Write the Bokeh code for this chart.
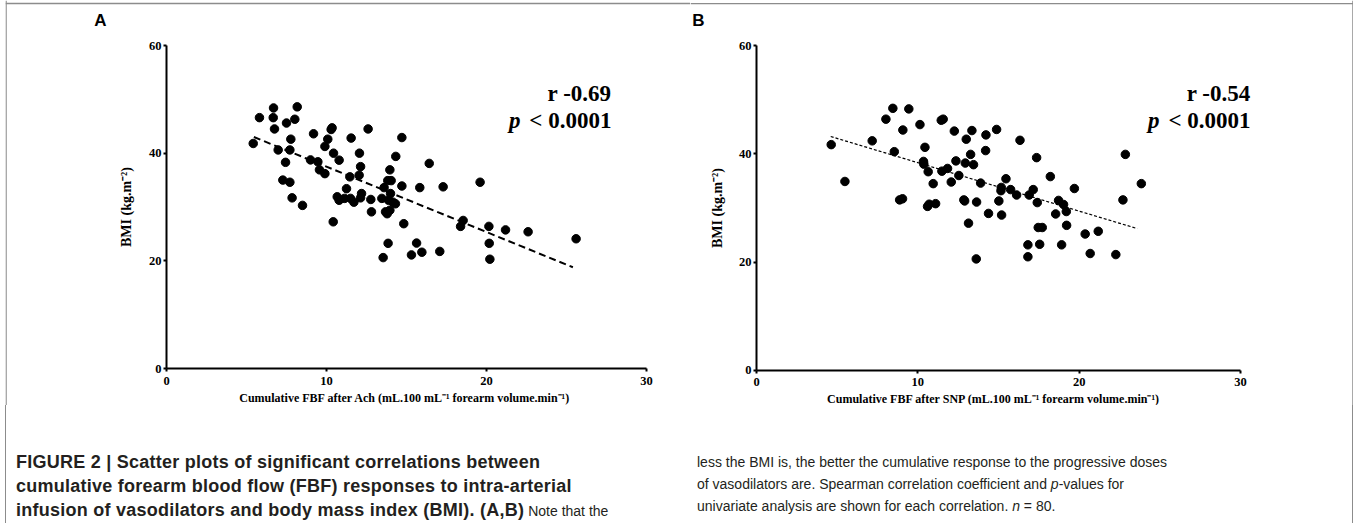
import math
from bokeh.plotting import figure
from bokeh.models import Range1d, Label, Div, FixedTicker, Span, Spacer
from bokeh.layouts import row, column
from bokeh.embed import file_html
from bokeh.resources import INLINE

# ---------------- data ----------------
ach_fbf = [5.42, 5.81, 6.69, 6.67, 6.75, 8.17, 7.50, 8.02, 7.77, 6.98,
           7.71, 7.44, 7.27, 7.71, 7.85, 8.50, 9.19, 9.00, 9.46, 9.56,
           9.90, 9.90, 10.08, 10.29, 10.35, 10.44, 10.79, 10.42, 10.67, 10.79,
           11.25, 11.13, 11.54, 11.46, 11.50, 11.71, 12.06, 12.13, 12.04, 12.19,
           12.13, 12.60, 12.77, 12.81, 13.46, 13.54, 13.60, 13.69, 13.79, 13.85,
           13.83, 14.04, 13.96, 14.00, 13.88, 13.96, 14.15, 14.31, 14.33, 14.71,
           14.71, 14.83, 15.63, 15.31, 15.96, 15.83, 16.42, 17.08, 17.29, 18.38,
           18.54, 19.60, 20.15, 20.17, 20.21, 21.19, 22.60, 25.60]
ach_bmi = [41.8, 46.6, 48.4, 46.6, 44.5, 48.6, 45.6, 46.3, 42.6, 40.6,
           40.6, 38.3, 35.0, 34.6, 31.7, 30.3, 43.6, 38.75, 38.4, 36.9,
           36.2, 41.25, 42.6, 44.4, 44.7, 40.0, 38.7, 27.25, 31.9, 31.25,
           33.4, 31.6, 42.8, 35.6, 31.6, 30.9, 40.0, 37.5, 35.9, 32.5,
           31.7, 44.5, 31.4, 29.1, 31.6, 20.6, 33.6, 29.1, 28.75, 23.25,
           34.9, 34.9, 36.9, 32.5, 31.25, 29.4, 30.9, 30.6, 39.4, 42.9,
           33.9, 26.9, 23.3, 21.1, 21.6, 33.6, 38.1, 21.75, 33.75, 26.4,
           27.5, 34.6, 26.4, 23.25, 20.3, 25.75, 25.4, 24.1]

snp_fbf = [4.63, 5.48, 7.17, 8.02, 8.45, 8.54, 9.07, 9.44, 8.87, 9.05,
           10.13, 10.44, 10.35, 10.37, 10.64, 10.95, 10.60, 10.70, 11.10, 11.45,
           11.57, 11.49, 11.84, 12.07, 12.26, 12.36, 12.54, 13.00, 12.94, 12.85,
           12.90, 13.14, 13.27, 13.35, 13.45, 13.64, 13.62, 13.89, 14.22, 14.20,
           14.38, 14.88, 15.17, 15.15, 15.02, 15.19, 15.46, 15.75, 16.12, 16.33,
           16.90, 17.15, 17.36, 17.40, 17.46, 17.71, 16.82, 16.82, 17.55, 18.21,
           18.72, 19.03, 19.20, 18.54, 19.22, 18.91, 19.70, 20.37, 21.18, 20.68,
           22.27, 22.86, 22.71, 23.85]
snp_bmi = [41.7, 34.9, 42.4, 46.4, 48.4, 40.4, 44.4, 48.3, 31.5, 31.7,
           45.4, 41.2, 38.6, 38.1, 36.7, 34.5, 30.3, 30.7, 30.8, 46.2,
           46.4, 36.8, 37.3, 34.8, 44.2, 38.7, 36.0, 42.7, 38.3, 31.5,
           31.3, 27.2, 39.9, 44.3, 38.0, 31.1, 20.6, 34.6, 43.5, 40.6,
           29.0, 44.5, 33.8, 33.2, 31.3, 28.7, 35.4, 33.4, 32.4, 42.5,
           32.4, 33.4, 39.3, 31.0, 26.4, 26.4, 23.2, 21.0, 23.3, 35.8,
           31.4, 30.65, 29.35, 28.9, 26.8, 23.2, 33.6, 25.2, 25.7, 21.6,
           21.4, 39.9, 31.5, 34.5]

ach_fit_x = [5.46, 25.4]
ach_fit_bmi = [43.0, 18.8]
snp_fit_x = [4.6, 23.6]
snp_fit_bmi = [43.2, 26.2]

x_ticks = [0, 10, 20, 30]
y_ticks = [0, 20, 40, 60]

panel_letters = ["A", "B"]
r_texts = ["r -0.69", "r -0.54"]
p_text = "< 0.0001"
x_labels = ["Cumulative FBF after Ach (mL.100 mL\u207b\u00b9 forearm volume.min\u207b\u00b9)",
            "Cumulative FBF after SNP (mL.100 mL\u207b\u00b9 forearm volume.min\u207b\u00b9)"]
y_label = "BMI (kg.m\u207b\u00b2)"

SERIF = "Liberation Serif"
SANS = "Liberation Sans"
BORDER = "#8c8c8c"
CANVAS_H = 405
CAPTION_H = 118


def make_panel(xs, ys, fx, fy, letter, rtxt, xlabel, width, xr, yr, dash, dash_w,
               letter_pos, r_pos, p_y, xlab_pos, ylab_x, top_y, side):
    p = figure(width=width, height=CANVAS_H, x_range=Range1d(*xr), y_range=Range1d(*yr),
               output_backend="svg", toolbar_location=None,
               min_border_left=0, min_border_right=0,
               min_border_top=0, min_border_bottom=0)
    p.grid.visible = False
    p.outline_line_color = None
    p.background_fill_color = "white"
    p.border_fill_color = "white"
    p.xaxis.ticker = FixedTicker(ticks=x_ticks)
    p.yaxis.ticker = FixedTicker(ticks=y_ticks)
    p.xaxis.fixed_location = 0
    p.yaxis.fixed_location = 0
    p.xaxis.bounds = (0, 30)
    p.yaxis.bounds = (0, 60)
    for ax in (p.xaxis[0], p.yaxis[0]):
        ax.axis_line_width = 2
        ax.axis_line_color = "black"
        ax.major_tick_line_width = 2
        ax.major_tick_line_color = "black"
        ax.major_tick_out = 3
        ax.major_tick_in = 0
        ax.minor_tick_out = 0
        ax.minor_tick_in = 0
        ax.major_label_text_font = SERIF
        ax.major_label_text_font_style = "bold"
        ax.major_label_text_font_size = "12.5px"
        ax.major_label_text_color = "black"
    p.xaxis.major_label_standoff = 5
    p.yaxis.major_label_standoff = 2

    # axis titles
    p.add_layout(Label(x=xlab_pos[0], y=xlab_pos[1], text=xlabel, text_font=SERIF,
                       text_font_style="bold", text_font_size="12px",
                       text_align="center", text_baseline="middle", text_color="black"))
    p.add_layout(Label(x=ylab_x, y=30, text=y_label, angle=math.pi / 2, text_font=SERIF,
                       text_font_style="bold", text_font_size="14px",
                       text_align="center", text_baseline="middle", text_color="black"))

    p.line(fx, fy, line_color="black", line_width=dash_w, line_dash=dash)
    p.scatter(xs, ys, size=8.5, fill_color="black", line_color="black")

    p.add_layout(Label(x=letter_pos[0], y=letter_pos[1], text=letter, text_font=SANS,
                       text_font_style="bold", text_font_size="17px",
                       text_align="center", text_baseline="middle", text_color="black"))
    p.add_layout(Label(x=r_pos[0], y=r_pos[1], text=rtxt, text_font=SERIF,
                       text_font_style="bold", text_font_size="23px",
                       text_align="right", text_baseline="middle", text_color="black"))
    p.add_layout(Label(x=r_pos[0], y=p_y, text=p_text, text_font=SERIF,
                       text_font_style="bold", text_font_size="23px",
                       text_align="right", text_baseline="middle", text_color="black"))
    p.add_layout(Label(x=r_pos[0], y=p_y, x_offset=-91, text="p", text_font=SERIF,
                       text_font_style="bold italic", text_font_size="23px",
                       text_align="right", text_baseline="middle", text_color="black"))

    # thin gray frame around the whole figure
    p.add_layout(Span(location=top_y, dimension="width", line_color=BORDER, line_width=1.3))
    if side == "left":
        loc = xr[0] + 0.6 * (xr[1] - xr[0]) / width
    else:
        loc = xr[1] - 0.6 * (xr[1] - xr[0]) / width
    p.add_layout(Span(location=loc, dimension="height", line_color=BORDER, line_width=1.3))
    return p


# panel A: canvas page x 5..690, y 0..405 ; 0 -> x 166, 30 -> 646 ; y 0 -> 368, 60 -> 45
pa = make_panel(ach_fbf, ach_bmi, ach_fit_x, ach_fit_bmi, panel_letters[0], r_texts[0],
                x_labels[0], 685, (-10.0625, 32.75), (-6.873, 68.36),
                "7 4", 2, (-4.125, 64.64), (27.81, 51.08), 46.07, (14.9, -5.39), -2.5,
                67.80, "left")
# panel B: canvas page x 690..1353 ; 0 -> x 756, 30 -> 1240 ; y 0 -> 370, 60 -> 45
pb = make_panel(snp_fbf, snp_bmi, snp_fit_x, snp_fit_bmi, panel_letters[1], r_texts[1],
                x_labels[1], 663, (-4.091, 37.0), (-6.462, 68.31),
                "3 2", 1.2, (-3.6, 64.6), (30.62, 51.14), 46.15, (14.7, -5.17), -2.42,
                67.75, "right")

base = ("font-family:'Liberation Sans',Arial,sans-serif;line-height:22px;color:#231f20;"
        "white-space:nowrap;height:118px;box-sizing:border-box;padding-top:46px;")
B = "<b style=\"font-size:18px;letter-spacing:0.25px\">"
R = "<span style=\"font-size:14px\">"
left_html = ("<div style=\"" + base + "width:687px;padding-left:10px;border-left:1.3px solid " + BORDER + ";\">"
             + B + "FIGURE 2 | Scatter plots of significant correlations between</b><br>"
             + B + "cumulative forearm blood flow (FBF) responses to intra-arterial</b><br>"
             + B + "infusion of vasodilators and body mass index (BMI). (A,B)</b>"
             + R + " Note that the</span></div>")
right_html = ("<div style=\"" + base + "width:661px;padding-left:5px;font-size:14px;border-right:1.3px solid " + BORDER + ";\">"
              "less the BMI is, the better the cumulative response to the progressive doses<br>"
              "of vasodilators are. Spearman correlation coefficient and <i>p</i>-values for<br>"
              "univariate analysis are shown for each correlation. <i>n</i> = 80.</div>")
cap_left = Div(text=left_html, width=687, height=CAPTION_H, margin=(0, 0, 0, 0))
cap_right = Div(text=right_html, width=661, height=CAPTION_H, margin=(0, 0, 0, 0))

layout = column(row(Spacer(width=5, height=CANVAS_H), pa, pb),
                row(Spacer(width=5, height=CAPTION_H), cap_left, cap_right))

open("out.html", "w").write(file_html(layout, INLINE))
